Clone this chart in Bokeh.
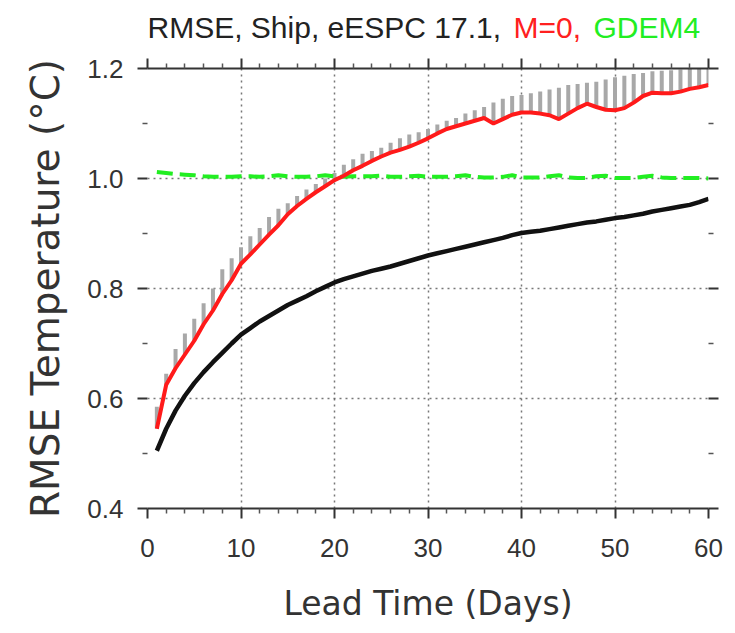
from bokeh.plotting import figure
from bokeh.layouts import column
from bokeh.models import (LinearAxis, FixedTicker, NumeralTickFormatter,
                          Label, Range1d)
from bokeh.embed import file_html
from bokeh.resources import INLINE

days = list(range(1, 61))

black_rmse = [0.505, 0.545, 0.578, 0.605, 0.628, 0.648, 0.666, 0.683, 0.700, 0.716,
              0.728, 0.740, 0.750, 0.760, 0.770, 0.778, 0.786, 0.795, 0.803, 0.811,
              0.817, 0.822, 0.827, 0.832, 0.836, 0.840, 0.845, 0.850, 0.855, 0.860,
              0.864, 0.868, 0.872, 0.876, 0.880, 0.884, 0.888, 0.892, 0.897, 0.901,
              0.903, 0.905, 0.908, 0.911, 0.914, 0.917, 0.920, 0.922, 0.925, 0.928,
              0.930, 0.933, 0.936, 0.940, 0.943, 0.946, 0.949, 0.952, 0.957, 0.963]

red_rmse = [0.545, 0.625, 0.655, 0.680, 0.705, 0.735, 0.760, 0.790, 0.815, 0.845,
            0.862, 0.880, 0.898, 0.915, 0.935, 0.950, 0.963, 0.975, 0.986, 0.997,
            1.005, 1.015, 1.023, 1.032, 1.040, 1.047, 1.052, 1.058, 1.065, 1.073,
            1.082, 1.090, 1.095, 1.100, 1.105, 1.110, 1.100, 1.108, 1.116, 1.120,
            1.120, 1.118, 1.115, 1.108, 1.118, 1.128, 1.136, 1.130, 1.125, 1.124,
            1.128, 1.138, 1.150, 1.156, 1.155, 1.155, 1.158, 1.163, 1.166, 1.170]

gray_top = [0.585, 0.645, 0.690, 0.718, 0.745, 0.773, 0.800, 0.835, 0.855, 0.875,
            0.895, 0.910, 0.930, 0.945, 0.955, 0.968, 0.980, 0.990, 1.000, 1.010,
            1.025, 1.035, 1.045, 1.050, 1.056, 1.065, 1.073, 1.080, 1.084, 1.090,
            1.098, 1.105, 1.110, 1.118, 1.124, 1.130, 1.138, 1.145, 1.150, 1.152,
            1.155, 1.158, 1.162, 1.165, 1.170, 1.172, 1.174, 1.176, 1.180, 1.184,
            1.187, 1.190, 1.192, 1.195, 1.196, 1.197, 1.198, 1.199, 1.200, 1.200]

green_rmse = [1.012, 1.010, 1.008, 1.007, 1.006, 1.004, 1.003, 1.003, 1.003, 1.004,
              1.004, 1.003, 1.004, 1.006, 1.004, 1.003, 1.003, 1.004, 1.006, 1.004,
              1.003, 1.004, 1.004, 1.004, 1.005, 1.003, 1.003, 1.004, 1.005, 1.003,
              1.003, 1.003, 1.004, 1.006, 1.003, 1.002, 1.002, 1.003, 1.006, 1.002,
              1.002, 1.002, 1.004, 1.006, 1.002, 1.001, 1.001, 1.004, 1.005, 1.001,
              1.001, 1.001, 1.003, 1.005, 1.002, 1.001, 1.001, 1.001, 1.001, 1.000]

x_major = [0, 10, 20, 30, 40, 50, 60]
x_minor = [2, 4, 6, 8, 12, 14, 16, 18, 22, 24, 26, 28, 32, 34, 36, 38,
           42, 44, 46, 48, 52, 54, 56, 58]
y_major = [0.4, 0.6, 0.8, 1.0, 1.2]
y_minor = [0.5, 0.7, 0.9, 1.1]

title_parts = ["RMSE, Ship, eESPC 17.1,", "M=0,", "GDEM4"]
title_colors = ["#222222", "#ff2020", "#22ee22"]
title_offsets = [0, 366, 446]

FONT = "Liberation Sans"
LFONT = "DejaVu Sans"
TXT = "#333333"
W = 735

# --- title strip (multi-coloured title); its frame is aligned with the plot's ---
t = figure(width=W, height=48, x_range=Range1d(0, 1), y_range=Range1d(0, 1),
           output_backend="svg", toolbar_location=None,
           min_border=0, min_border_left=147, min_border_right=W - 147 - 561,
           x_axis_location=None, y_axis_location=None)
t.outline_line_color = None
t.xgrid.visible = False
t.ygrid.visible = False
for txt, c, off in zip(title_parts, title_colors, title_offsets):
    t.add_layout(Label(x=off, y=21, x_units="screen", y_units="screen", text=txt,
                       text_color=c, text_font=FONT, text_font_size="30px",
                       text_align="left", text_baseline="middle"))

# --- main plot ---
p = figure(width=W, height=584, x_range=Range1d(0, 60), y_range=Range1d(0.4, 1.2),
           output_backend="svg", toolbar_location=None,
           min_border_left=147, min_border_right=W - 147 - 561, min_border_top=20,
           min_border_bottom=124, x_axis_location=None, y_axis_location=None)
p.outline_line_color = None
p.background_fill_color = "white"

xt = FixedTicker(ticks=x_major, minor_ticks=x_minor)
yt = FixedTicker(ticks=y_major, minor_ticks=y_minor)

def style(ax, labels=True, line=True):
    ax.major_tick_out = 10
    ax.major_tick_in = 0
    ax.minor_tick_out = 5
    ax.minor_tick_in = 0
    ax.major_tick_line_width = 2
    ax.minor_tick_line_width = 1.5
    ax.major_tick_line_color = "#333333"
    ax.minor_tick_line_color = "#555555"
    if line:
        ax.axis_line_width = 2
        ax.axis_line_color = "#333333"
    else:
        ax.axis_line_color = None
    ax.major_label_text_font = FONT
    ax.major_label_text_color = TXT
    ax.axis_label_text_font = LFONT
    ax.axis_label_text_font_style = "normal"
    ax.axis_label_text_color = TXT
    if not labels:
        ax.major_label_text_font_size = "0px"
        ax.major_label_text_alpha = 0

bottom = LinearAxis(ticker=xt, axis_label="Lead Time (Days)")
style(bottom)
bottom.major_label_text_font_size = "26px"
bottom.major_label_standoff = 20
bottom.axis_label_text_font_size = "33px"
bottom.axis_label_standoff = 24
p.add_layout(bottom, "below")

top = LinearAxis(ticker=xt)
style(top, labels=False)
p.add_layout(top, "above")

left = LinearAxis(ticker=yt, axis_label="RMSE Temperature (°C)",
                  formatter=NumeralTickFormatter(format="0.0"))
style(left, line=False)
left.major_label_text_font_size = "26px"
left.major_label_standoff = 14
left.axis_label_text_font_size = "39px"
left.axis_label_standoff = 16
p.add_layout(left, "left")

right = LinearAxis(ticker=yt)
style(right, labels=False, line=False)
p.add_layout(right, "right")

p.xgrid.ticker = xt
p.ygrid.ticker = yt
for g in (p.xgrid, p.ygrid):
    g.grid_line_color = "#555555"
    g.grid_line_dash = "2 4"
    g.grid_line_width = 1.5
    g.grid_line_alpha = 0.8

p.segment(x0=days, y0=red_rmse, x1=days, y1=gray_top,
          line_color="#a8a8a8", line_width=4)
p.line(days, green_rmse, line_color="#22ee22", line_width=4, line_dash="16 7")
p.line(days, black_rmse, line_color="#111111", line_width=4.5)
p.line(days, red_rmse, line_color="#ff1a1a", line_width=4)

layout = column(t, p, spacing=0)
open("out.html", "w").write(file_html(layout, INLINE))
